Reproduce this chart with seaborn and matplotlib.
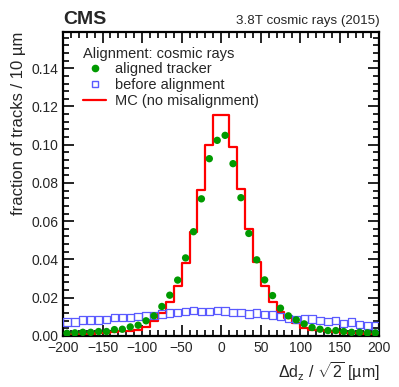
import numpy as np
import pandas as pd
import seaborn as sns
import matplotlib.pyplot as plt
from matplotlib.lines import Line2D
from matplotlib.ticker import MultipleLocator

# -----------------------------
# Datos
# -----------------------------
bin_centers = list(range(-195, 200, 10))
bin_edges = list(range(-200, 201, 10))

aligned = [0.0014, 0.0016, 0.0019, 0.0019, 0.0023, 0.0023, 0.0033, 0.0035, 0.0047, 0.0056,
           0.0079, 0.0105, 0.0154, 0.0213, 0.0292, 0.0408, 0.0545, 0.0717, 0.0927, 0.1023,
           0.1049, 0.0901, 0.0723, 0.0536, 0.0398, 0.0293, 0.0211, 0.0145, 0.0105, 0.0084,
           0.0063, 0.0044, 0.0035, 0.0028, 0.0028, 0.0023, 0.0019, 0.0019, 0.0016, 0.0016]

before = [0.0072, 0.0073, 0.0084, 0.0084, 0.0084, 0.0087, 0.0098, 0.0098, 0.0098, 0.0101,
          0.0108, 0.0108, 0.0115, 0.0119, 0.0121, 0.0129, 0.0134, 0.0129, 0.0127, 0.0134,
          0.0131, 0.0124, 0.0121, 0.0115, 0.0119, 0.0113, 0.0110, 0.0101, 0.0091, 0.0087,
          0.0091, 0.0089, 0.0079, 0.0075, 0.0080, 0.0066, 0.0072, 0.0061, 0.0056, 0.0052]

mc = [0.0010, 0.0010, 0.0011, 0.0012, 0.0016, 0.0017, 0.0018, 0.0026, 0.0028, 0.0030,
      0.0048, 0.0080, 0.0118, 0.0176, 0.0260, 0.0380, 0.0546, 0.0765, 0.1000, 0.1157,
      0.1157, 0.0986, 0.0770, 0.0559, 0.0386, 0.0263, 0.0180, 0.0125, 0.0093, 0.0065,
      0.0040, 0.0032, 0.0030, 0.0024, 0.0022, 0.0014, 0.0013, 0.0013, 0.0012, 0.0012]

df = pd.DataFrame({'x': bin_centers, 'aligned': aligned, 'before': before, 'mc': mc})

# -----------------------------
# Estilo
# -----------------------------
sns.set_style("ticks")
plt.rcParams['font.family'] = ['Liberation Sans', 'DejaVu Sans']
plt.rcParams['mathtext.fontset'] = 'custom'
plt.rcParams['mathtext.rm'] = 'Liberation Sans'
plt.rcParams['mathtext.it'] = 'Liberation Sans'

fig = plt.figure(figsize=(3.99, 3.87), dpi=100)
ax = fig.add_axes([0.158, 0.132, 0.7926, 0.7855])

col_green = '#009a00'
col_blue = '#5a5aff'
col_red = '#ff0000'

# histograma MC (paso)
sns.histplot(data=df, x='x', weights='mc', bins=bin_edges, element='step', fill=False,
             color=col_red, linewidth=1.6, ax=ax)

# antes del alineamiento
sns.scatterplot(data=df, x='x', y='before', marker='s', s=28, facecolor='none',
                edgecolor=col_blue, linewidth=0.9, ax=ax, zorder=3)

# tracker alineado
sns.scatterplot(data=df, x='x', y='aligned', marker='o', s=28, color=col_green,
                edgecolor='none', ax=ax, zorder=4)

ax.set_xlim(-200, 200)
ax.set_ylim(0, 0.159)
ax.xaxis.set_major_locator(MultipleLocator(50))
ax.xaxis.set_minor_locator(MultipleLocator(10))
ax.yaxis.set_major_locator(MultipleLocator(0.02))
ax.yaxis.set_minor_locator(MultipleLocator(0.004))
ax.yaxis.set_major_formatter(plt.FormatStrFormatter('%.2f'))
ax.tick_params(which='both', direction='in', top=True, right=True, labelsize=10,
               width=1.2, color='black')
ax.tick_params(which='major', length=8)
ax.tick_params(which='minor', length=4)
for s in ax.spines.values():
    s.set_linewidth(1.6)
    s.set_color('black')

ax.set_xlabel(r'$\Delta$d$_z$ / $\sqrt{2}$ [µm]', fontsize=11.5, loc='right')
ax.set_ylabel('fraction of tracks / 10 µm', fontsize=12, loc='top')

ax.text(0.0, 1.012, 'CMS', transform=ax.transAxes, fontsize=14, fontweight='bold',
        ha='left', va='bottom')
ax.text(1.0, 1.015, '3.8T cosmic rays (2015)', transform=ax.transAxes, fontsize=9.6,
        ha='right', va='bottom')

handles = [
    Line2D([], [], marker='o', color=col_green, linestyle='none', markersize=4.5),
    Line2D([], [], marker='s', markerfacecolor='none', markeredgecolor=col_blue,
           linestyle='none', markersize=5),
    Line2D([], [], color=col_red, linewidth=1.6),
]
leg = ax.legend(handles, ['aligned tracker', 'before alignment', 'MC (no misalignment)'],
                title='Alignment: cosmic rays', loc='upper left', frameon=False,
                fontsize=10.5, title_fontsize=10.5, bbox_to_anchor=(0.022, 0.995),
                handlelength=1.6, handletextpad=0.6, labelspacing=0.12,
                alignment='left')

fig.savefig('out.png', dpi=100)
